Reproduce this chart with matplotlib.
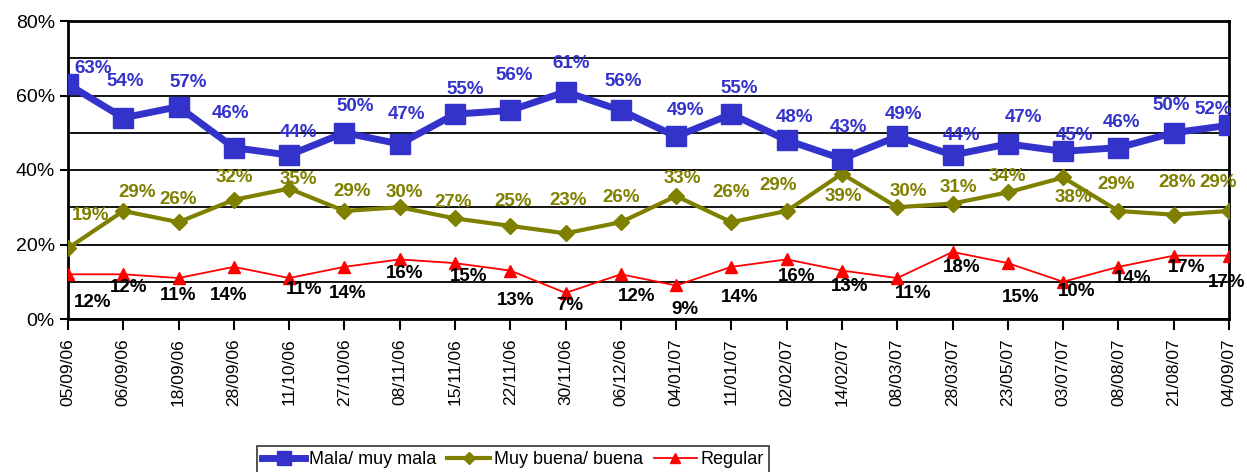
import matplotlib
matplotlib.use("Agg")
import matplotlib.pyplot as plt

# -----------------------------
# Data
# -----------------------------
dates = ["05/09/06", "06/09/06", "18/09/06", "28/09/06", "11/10/06", "27/10/06",
         "08/11/06", "15/11/06", "22/11/06", "30/11/06", "06/12/06", "04/01/07",
         "11/01/07", "02/02/07", "14/02/07", "08/03/07", "28/03/07", "23/05/07",
         "03/07/07", "08/08/07", "21/08/07", "04/09/07"]

mala = [63, 54, 57, 46, 44, 50, 47, 55, 56, 61, 56, 49, 55, 48, 43, 49, 44, 47, 45, 46, 50, 52]
buena = [19, 29, 26, 32, 35, 29, 30, 27, 25, 23, 26, 33, 26, 29, 39, 30, 31, 34, 38, 29, 28, 29]
regular = [12, 12, 11, 14, 11, 14, 16, 15, 13, 7, 12, 9, 14, 16, 13, 11, 18, 15, 10, 14, 17, 17]

# label offsets in pixels (dx, dy) -- dy positive = up
mala_off = [(25, 16), (2, 36), (10, 24), (-3, 34), (9, 23), (11, 26), (7, 29), (10, 25),
            (4, 35), (6, 28), (2, 29), (9, 26), (8, 26), (8, 23), (6, 31), (6, 22),
            (9, 20), (16, 26), (11, 16), (3, 25), (-2, 27), (-16, 16)]
buena_off = [(23, 33), (14, 18), (0, 23), (1, 22), (9, 9), (8, 19), (5, 15), (-2, 16),
             (3, 24), (3, 33), (0, 25), (6, 18), (0, 30), (-9, 25), (1, -23), (11, 16),
             (6, 16), (0, 16), (10, -20), (-2, 26), (3, 32), (-11, 28)]
reg_off = [(25, -28), (5, -13), (0, -17), (-5, -29), (15, -11), (3, -27), (5, -14), (14, -13),
           (5, -30), (4, -13), (16, -22), (9, -24), (8, -31), (10, -17), (8, -16), (16, -15),
           (9, -16), (13, -34), (13, -10), (14, -12), (13, -12), (-2, -27)]

plt.rcParams["font.family"] = ["Liberation Sans", "DejaVu Sans"]

BLUE = "#3333CC"
OLIVE = "#808000"
RED = "#FF0000"

# -----------------------------
# Figure
# -----------------------------
fig = plt.figure(figsize=(12.47, 4.72), dpi=100)
ax = fig.add_axes([68 / 1247, 1 - 319 / 472, (1229 - 68) / 1247, (319 - 21) / 472])

x = list(range(len(dates)))

ax.plot(x, mala, color=BLUE, lw=5, marker="s", ms=14, mec=BLUE, label="Mala/ muy mala", zorder=5)
ax.plot(x, buena, color=OLIVE, lw=3, marker="D", ms=8, mec=OLIVE, label="Muy buena/ buena", zorder=4)
ax.plot(x, regular, color=RED, lw=1.3, marker="^", ms=9, mec=RED, label="Regular", zorder=3)

def put_labels(values, offsets, color):
    for xi, v, (dx, dy) in zip(x, values, offsets):
        ax.annotate(f"{v}%", (xi, v), xytext=(dx, dy), textcoords="offset pixels",
                    ha="center", va="center", fontsize=13.5, fontweight="bold",
                    color=color, zorder=6, annotation_clip=False)

put_labels(mala, mala_off, BLUE)
put_labels(buena, buena_off, OLIVE)
put_labels(regular, reg_off, "black")

ax.set_xlim(0, len(dates) - 1)
ax.set_ylim(0, 80)
ax.set_yticks([0, 20, 40, 60, 80])
ax.set_yticklabels([f"{v}%" for v in [0, 20, 40, 60, 80]], fontsize=14)
ax.set_yticks([10, 30, 50, 70], minor=True)
ax.tick_params(axis="y", which="minor", length=0)
ax.tick_params(axis="y", which="major", length=6, width=1.5)
ax.set_xticks(x)
ax.set_xticklabels(dates, rotation=90, fontsize=12.5)
ax.tick_params(axis="x", length=8, width=1.5, direction="out", pad=6)

ax.grid(axis="y", which="both", color="black", lw=1.3)
ax.set_axisbelow(True)
for side in ax.spines.values():
    side.set_linewidth(2)
    side.set_color("black")

leg = fig.legend(loc="upper center", bbox_to_anchor=(513 / 1247, 1 - 437 / 472), ncol=3,
                 frameon=True, fancybox=False, edgecolor="black", handlelength=2.4,
                 columnspacing=0.6, handletextpad=0.2, borderpad=0.3,
                 fontsize=13, markerscale=0.75)
leg.get_frame().set_linewidth(1.2)

fig.savefig("out.png", dpi=100)
